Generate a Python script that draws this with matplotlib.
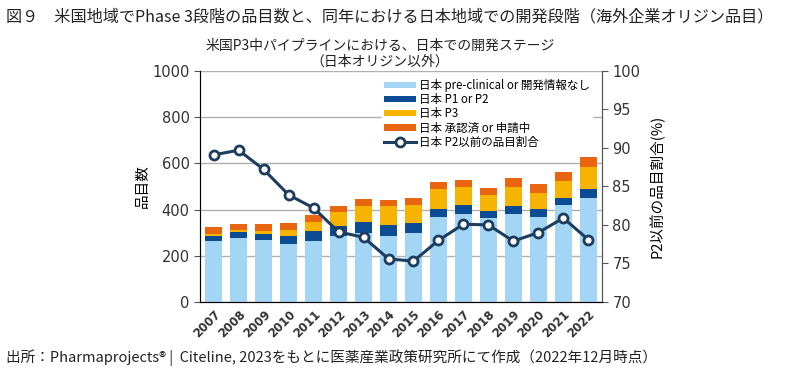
import numpy as np
import matplotlib
matplotlib.use('Agg')
import matplotlib.pyplot as plt

plt.rcParams['font.family'] = ['DejaVu Sans', 'Noto Sans CJK JP']

years = [str(y) for y in range(2007, 2023)]
preclinical = [265, 277, 268, 251, 265, 284, 298, 287, 298, 369, 382, 362, 380, 366, 419, 452]
p1_p2 = [22, 24, 25, 33, 42, 43, 48, 47, 42, 34, 39, 31, 35, 35, 33, 39]
p3 = [8, 9, 15, 29, 37, 61, 70, 80, 79, 87, 75, 72, 81, 72, 70, 95]
approved = [28, 29, 29, 29, 32, 28, 29, 28, 32, 30, 30, 29, 39, 36, 39, 42]
ratio = [89.1, 89.7, 87.2, 83.9, 82.2, 79.1, 78.4, 75.6, 75.3, 78.0, 80.1, 80.0, 77.9, 79.0, 80.9, 78.1]

labels = ['日本 pre-clinical or 開発情報なし', '日本 P1 or P2', '日本 P3',
          '日本 承認済 or 申請中', '日本 P2以前の品目割合']
colors = ['#a3d6f5', '#0b4c95', '#f6b400', '#ea6510']
line_color = '#1d3d5e'
jp = ['Noto Sans CJK JP', 'DejaVu Sans']

fig = plt.figure(figsize=(8, 3.71), dpi=100)
ax = fig.add_axes([0.25, 0.186, 0.5025, 0.623])
x = np.arange(len(years))

bottom = np.zeros(len(years))
handles = []
for vals, c, lab in zip([preclinical, p1_p2, p3, approved], colors, labels[:4]):
    b = ax.bar(x, vals, 0.66, bottom=bottom, color=c, label=lab, zorder=2)
    handles.append(b)
    bottom += np.array(vals)

ax.set_ylim(0, 1000)
ax.set_xlim(-0.55, len(years) - 0.45)
ax.set_yticks(range(0, 1001, 200))
ax.yaxis.grid(True, color='#b0b0b0', lw=1, zorder=0)
ax.set_axisbelow(True)
ax.spines['top'].set_visible(False)
for s in ['left', 'right', 'bottom']:
    ax.spines[s].set_color('#555555')
ax.set_xticks(x)
ax.set_xticklabels(years, rotation=45, ha='right', rotation_mode='anchor',
                   fontsize=8.5, fontweight='bold', color='#333333')
ax.tick_params(axis='x', length=0, pad=4)
ax.tick_params(axis='y', labelsize=10.5, colors='#333333', length=4, color='#555555')
ax.set_ylabel('品目数', family=jp, fontsize=10.5, labelpad=2)

ax2 = ax.twinx()
ax2.set_ylim(70, 100)
ax2.set_yticks(range(70, 101, 5))
ax2.spines['top'].set_visible(False)
ax2.spines['right'].set_color('#555555')
ax2.tick_params(axis='y', labelsize=10.5, colors='#333333', length=4, color='#555555')
ln, = ax2.plot(x, ratio, color=line_color, lw=2.2, marker='o', ms=6.5,
               mfc='white', mec=line_color, mew=2, label=labels[4], zorder=3)
ax2.set_ylabel('P2以前の品目割合(%)', family=jp, fontsize=10.5, labelpad=6)

leg = ax2.legend(handles + [ln], labels, loc='upper right', bbox_to_anchor=(0.975, 0.975),
                 frameon=True, fancybox=False, edgecolor='white', framealpha=1,
                 prop={'family': jp, 'size': 8.3}, handlelength=2.8, handleheight=0.5,
                 labelspacing=0.1, borderpad=0.2, handletextpad=0.2, borderaxespad=0)

fig.text(0.008, 0.955, '図９　米国地域でPhase 3段階の品目数と、同年における日本地域での開発段階（海外企業オリジン品目）',
         family=jp, fontsize=11.6, color='#222222', va='center')
fig.text(0.475, 0.855, '米国P3中パイプラインにおける、日本での開発ステージ\n（日本オリジン以外）',
         family=jp, fontsize=10, color='#222222', ha='center', va='center', linespacing=1.15)
fig.text(0.008, 0.035, '出所：Pharmaprojects® |  Citeline, 2023をもとに医薬産業政策研究所にて作成（2022年12月時点）',
         family=jp, fontsize=10.5, color='#222222', va='center')

fig.savefig('out.png', dpi=100)
